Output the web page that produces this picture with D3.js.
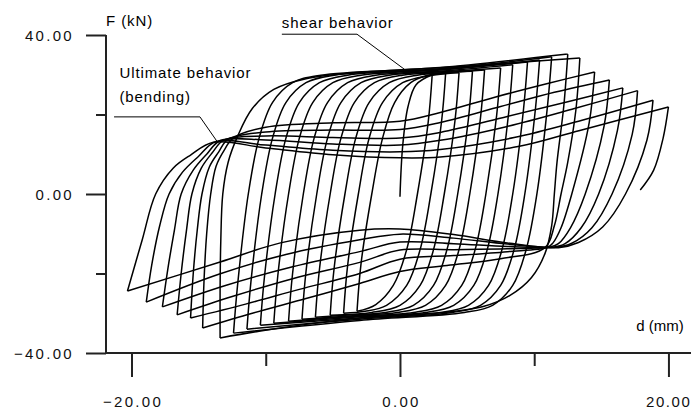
<!DOCTYPE html>
<html>
<head>
<meta charset="utf-8">
<script src="https://cdn.jsdelivr.net/npm/d3@7/dist/d3.min.js"></script>
<style>
  html, body { margin: 0; padding: 0; background: #fff; overflow: hidden; }
  svg { display: block; }
  .tick text { font-family: "Liberation Sans", Arial, sans-serif; font-size: 15px; letter-spacing: 2.3px; fill: #111; }
  .lab { font-family: "Liberation Sans", Arial, sans-serif; font-size: 15px; letter-spacing: 0.9px; fill: #000; }
</style>
</head>
<body>
<svg id="chart" width="691" height="413"></svg>
<script>
// ---------------- DATA ----------------
// displacement d (mm), force F (kN)
const xTicksMajor = [-20, 0, 20];
const xTicksMinor = [-10, 10];
const yTicksMajor = [-40, 0, 40];
const yTicksMinor = [-20, 20];

// positive peaks P1..P18 and negative peaks N1..N17
const posPeaks = [[2.4,30.0],[3.4,30.3],[4.4,30.5],[5.4,30.9],[6.3,31.2],[7.5,31.7],[8.4,32.5],[9.5,33.2],[10.4,33.7],[11.3,34.5],[12.5,35.2],[13.4,34.2],[14.5,30.7],[15.6,28.7],[16.6,26.7],[17.7,26.0],[18.85,23.6],[20.0,21.9]];
const negPeaks = [[-3.2,-29.5],[-4.2,-30.0],[-5.2,-30.5],[-6.3,-31.0],[-7.3,-31.5],[-8.3,-32.0],[-9.4,-32.5],[-10.4,-33.0],[-11.4,-34.0],[-12.4,-35.0],[-13.4,-36.2],[-14.7,-33.7],[-15.6,-31.2],[-16.6,-30.4],[-17.7,-28.4],[-18.9,-27.2],[-20.3,-24.4]];

// reloading branches (from previous negative peak to positive peak)
const reloadBranches = [
  [[0,-0.7],[0.2,12],[0.6,22],[1.2,27.5],[2.4,30.0]],
  [[-3.2,-29.5],[-2.9,-17.5],[-2.1,0],[-1.3,14],[-0.4,23],[0.8,28],[2.0,29.8],[3.4,30.3]],
  [[-4.2,-30.0],[-3.9,-18],[-3.1,0],[-2.3,14],[-1.3,23],[0.2,28],[2.3,29.8],[4.4,30.5]],
  [[-5.2,-30.5],[-4.9,-18.5],[-4.1,0],[-3.3,14],[-2.3,23],[-0.8,28],[1.3,29.9],[5.4,30.9]],
  [[-6.3,-31.0],[-6.0,-19],[-5.2,0],[-4.4,14],[-3.4,23],[-1.9,28],[0.2,29.9],[3.2,30.5],[6.3,31.2]],
  [[-7.3,-31.5],[-7.0,-19.5],[-6.2,0],[-5.4,14],[-4.4,23],[-2.9,28],[-0.8,29.9],[3.5,30.8],[7.5,31.7]],
  [[-8.3,-32.0],[-8.0,-20],[-7.2,0],[-6.4,14],[-5.4,23],[-3.9,28],[-1.8,29.9],[3.5,31.0],[8.4,32.5]],
  [[-9.4,-32.5],[-9.1,-20.5],[-8.3,0],[-7.5,14],[-6.5,23],[-5.0,28],[-2.9,29.9],[3.0,31.2],[9.5,33.2]],
  [[-10.4,-33.0],[-10.1,-21],[-9.3,0],[-8.5,14],[-7.5,23],[-6.0,28],[-3.9,29.9],[3.0,31.3],[10.4,33.7]],
  [[-11.4,-34.0],[-11.1,-22],[-10.3,0],[-9.5,14],[-8.5,23],[-7.0,28],[-4.9,29.9],[3.0,31.5],[11.3,34.5]],
  [[-12.4,-35.0],[-12.1,-23],[-11.3,0],[-10.5,14],[-9.5,23],[-8.0,28],[-5.9,29.9],[3.0,31.8],[12.5,35.2]],
  [[-13.4,-36.2],[-13.4,-24],[-13.35,-12],[-13.2,0],[-12.8,8],[-12.1,14.5],[-11.0,21.5],[-9.4,26.3],[-7.0,29.0],[-3.0,30.6],[0,31.2],[5.0,32.2],[10.0,33.4],[13.4,34.2]],
  [[-14.7,-33.7],[-14.6,-22],[-14.4,-10],[-14.1,0],[-13.7,7],[-13.1,11],[-12.4,14.1],[-10,16.8],[-5,17.9],[0,18.3],[3,20.5],[7,24.3],[11,27.8],[14.5,30.7]],
  [[-15.6,-31.2],[-15.4,-20],[-15.1,-9],[-14.75,0],[-14.2,6.8],[-13.5,10.6],[-12.8,13.8],[-10,15.6],[-5,16.1],[0,16.2],[3,18.0],[7.5,22.0],[11.5,25.6],[15.6,28.7]],
  [[-16.6,-30.4],[-16.3,-20],[-15.9,-9],[-15.5,0],[-14.8,6.5],[-14.0,10.3],[-13.1,13.6],[-10,14.6],[-5,14.2],[0,14.1],[3,15.5],[8,19.5],[12.5,23.2],[16.6,26.7]],
  [[-17.7,-28.4],[-17.3,-19],[-16.8,-9],[-16.3,0],[-15.4,6],[-14.4,10],[-13.4,13.4],[-10,13.6],[-5,12.6],[0,12.3],[3,13.5],[8,17.0],[13,21.5],[17.7,26.0]],
  [[-18.9,-27.2],[-18.5,-18],[-17.9,-8],[-17.2,0],[-16.2,5.5],[-15.0,9.5],[-13.7,13.2],[-10,12.3],[-5,11.0],[0,10.6],[3,11.2],[8.5,14.2],[13.5,18.5],[18.85,23.6]],
  [[-20.3,-24.4],[-19.2,-11.5],[-18.2,0],[-16.9,6.5],[-15.6,9.8],[-13.9,13.0],[-10,11.6],[-5,9.9],[0,9.1],[3,9.3],[8.9,12.0],[13.4,16.0],[20.0,21.9]]
];

// unloading branches (from positive peak to next negative peak; last one partial)
const unloadBranches = [
  [[2.4,30.0],[2.1,18],[1.3,0],[0.5,-14],[-0.5,-23],[-1.8,-27.8],[-3.2,-29.5]],
  [[3.4,30.3],[3.1,18.3],[2.3,0],[1.5,-14],[0.5,-23],[-1.0,-28],[-2.6,-29.5],[-4.2,-30.0]],
  [[4.4,30.5],[4.1,18.5],[3.3,0],[2.5,-14],[1.5,-23],[0,-28],[-2.1,-29.8],[-5.2,-30.5]],
  [[5.4,30.9],[5.1,18.9],[4.3,0],[3.5,-14],[2.5,-23],[1.0,-28],[-1.1,-29.8],[-3.5,-30.4],[-6.3,-31.0]],
  [[6.3,31.2],[6.0,19.2],[5.2,0],[4.4,-14],[3.4,-23],[1.9,-28],[-0.2,-29.8],[-3.5,-30.6],[-7.3,-31.5]],
  [[7.5,31.7],[7.2,19.7],[6.4,0],[5.6,-14],[4.6,-23],[3.1,-28],[1.0,-29.8],[-3.5,-30.8],[-8.3,-32.0]],
  [[8.4,32.5],[8.1,20.5],[7.3,0],[6.5,-14],[5.5,-23],[4.0,-28],[1.9,-29.8],[-3.5,-31.0],[-9.4,-32.5]],
  [[9.5,33.2],[9.2,21.2],[8.4,0],[7.6,-14],[6.6,-23],[5.1,-28],[3.0,-29.8],[-3.0,-31.2],[-10.4,-33.0]],
  [[10.4,33.7],[10.1,21.7],[9.3,0],[8.5,-14],[7.5,-23],[6.0,-28],[3.9,-29.8],[-3.0,-31.5],[-11.4,-34.0]],
  [[11.3,34.5],[11.0,22.5],[10.2,0],[9.4,-14],[8.4,-23],[6.9,-28],[4.8,-29.8],[-3.0,-31.8],[-12.4,-35.0]],
  [[12.5,35.2],[12.2,22],[11.7,8],[11.5,0],[11.3,-8],[10.8,-15],[9.8,-21],[8.2,-25.5],[6.2,-28.3],[3.0,-29.9],[0,-30.5],[-3.0,-31.2],[-7.0,-32.8],[-10.5,-34.5],[-13.4,-36.2]],
  [[13.4,34.2],[13.1,21],[12.5,8],[12.0,0],[11.5,-8],[10.8,-13.5],[7.5,-16.3],[3.5,-18.0],[0,-19.5],[-3.0,-22.5],[-7.0,-26.3],[-11.0,-30.0],[-14.7,-33.7]],
  [[14.5,30.7],[14.1,18],[12.8,0],[12.0,-8.5],[11.4,-12.3],[11.0,-13.4],[8,-14.5],[4,-15.5],[0,-16.4],[-3,-20.0],[-7.5,-24.0],[-11.5,-27.7],[-15.6,-31.2]],
  [[15.6,28.7],[15.2,17],[13.8,0],[12.7,-8.5],[11.8,-12.5],[11.2,-13.3],[8,-13.8],[4,-14.0],[0,-14.1],[-3,-17.2],[-8,-21.3],[-12.5,-25.8],[-16.6,-30.4]],
  [[16.6,26.7],[16.2,16],[14.8,0],[13.5,-8.5],[12.3,-12.5],[11.4,-13.4],[8,-13.2],[4,-12.5],[0,-12.1],[-3,-14.5],[-8,-18.3],[-13,-23.0],[-17.7,-28.4]],
  [[17.7,26.0],[17.3,15],[15.8,0],[14.3,-8.5],[12.8,-12.4],[11.6,-13.4],[8,-12.6],[4,-11.1],[0,-10.1],[-3,-11.5],[-8.5,-15.2],[-13.5,-20.2],[-18.9,-27.2]],
  [[18.85,23.6],[18.4,13.6],[16.8,0],[15.1,-8.3],[13.3,-12.2],[11.8,-13.5],[8,-12.3],[4,-10.2],[0,-8.8],[-3,-9.1],[-8.9,-12.3],[-13.4,-17.1],[-20.3,-24.4]],
  [[20.0,21.9],[19.6,14],[18.9,6],[17.9,1.0]]
];

// annotations (data coordinates)
const shearLabel = {text: "shear behavior", at: [-8.8, 41.8]};
const shearLeader = [[-8.8, 40.2], [-3.2, 40.2], [0.4, 31.2]];
const ultLabel = {lines: ["Ultimate behavior", "(bending)"], at: [-20.9, 29.2]};
const ultLeader = [[-21.3, 19.4], [-14.9, 19.4], [-13.6, 13.1]];
const yTitle = {text: "F (kN)", at: [-21.9, 42.3]};
const xTitle = {text: "d (mm)", at: [17.6, -34.5]};

// ---------------- DRAW ----------------
const svg = d3.select("#chart");
const x = d3.scaleLinear().domain([-21.9, 22.5]).range([106, 702]);
const y = d3.scaleLinear().domain([-40, 40]).range([353, 35]);

const line = d3.line()
  .x(d => x(d[0])).y(d => y(d[1]))
  .curve(d3.curveCatmullRom.alpha(0.5));

const gLoops = svg.append("g")
  .attr("fill", "none").attr("stroke", "#000")
  .attr("stroke-width", 1.5).attr("stroke-linejoin", "round");

gLoops.selectAll("path.reload").data(reloadBranches).join("path")
  .attr("class", "reload").attr("d", line);
gLoops.selectAll("path.unload").data(unloadBranches).join("path")
  .attr("class", "unload").attr("d", line);

// axes
const fmt = d3.format(".2f");
const axisStroke = "#222";

const yMaj = svg.append("g").attr("transform", `translate(${x(-21.9)},0)`)
  .call(d3.axisLeft(y).tickValues(yTicksMajor).tickSize(20).tickPadding(12).tickFormat(fmt));
const yMin = svg.append("g").attr("transform", `translate(${x(-21.9)},0)`)
  .call(d3.axisLeft(y).tickValues(yTicksMinor).tickSize(10).tickFormat(""));
const xMaj = svg.append("g").attr("transform", `translate(0,${y(-40)})`)
  .call(d3.axisBottom(x).tickValues(xTicksMajor).tickSize(24).tickPadding(19).tickFormat(fmt));
const xMin = svg.append("g").attr("transform", `translate(0,${y(-40)})`)
  .call(d3.axisBottom(x).tickValues(xTicksMinor).tickSize(13).tickFormat(""));

[yMaj, yMin, xMaj, xMin].forEach(g => {
  g.selectAll("path.domain").attr("stroke", axisStroke).attr("stroke-width", 2).attr("d", null);
  g.selectAll(".tick line").attr("stroke", axisStroke).attr("stroke-width", 2);
  g.selectAll(".tick text").attr("font-family", null).attr("font-size", null);
});
yMaj.selectAll("path.domain").attr("d", `M0,${y(40)}V${y(-40)}`);
xMaj.selectAll("path.domain").attr("d", `M${x(-21.9)},0H691`);
yMin.selectAll("path.domain").remove();
xMin.selectAll("path.domain").remove();
yMaj.selectAll(".tick text").attr("dy", "0.36em");
xMaj.selectAll(".tick text").attr("dx", "1px");
// keep the last x label inside the frame
xMaj.selectAll(".tick text").filter(d => d === 20)
  .attr("text-anchor", "end").style("letter-spacing", "1.6px")
  .attr("dx", 0).attr("x", 691 - x(20));

// titles
svg.append("text").attr("class", "lab")
  .attr("x", x(yTitle.at[0])).attr("y", y(yTitle.at[1])).text(yTitle.text);
svg.append("text").attr("class", "lab").style("letter-spacing", "0px")
  .attr("x", x(xTitle.at[0])).attr("y", y(xTitle.at[1])).text(xTitle.text);

// annotations
const leader = d3.line().x(d => x(d[0])).y(d => y(d[1]));
svg.append("path").attr("d", leader(shearLeader))
  .attr("fill", "none").attr("stroke", "#000").attr("stroke-width", 1);
svg.append("path").attr("d", leader(ultLeader))
  .attr("fill", "none").attr("stroke", "#000").attr("stroke-width", 1);
svg.append("text").attr("class", "lab")
  .attr("x", x(shearLabel.at[0])).attr("y", y(shearLabel.at[1])).text(shearLabel.text);
const ut = svg.append("text").attr("class", "lab")
  .attr("x", x(ultLabel.at[0])).attr("y", y(ultLabel.at[1]));
ut.selectAll("tspan").data(ultLabel.lines).join("tspan")
  .attr("x", x(ultLabel.at[0])).attr("dy", (d, i) => i === 0 ? 0 : 24).text(d => d);
</script>
</body>
</html>
